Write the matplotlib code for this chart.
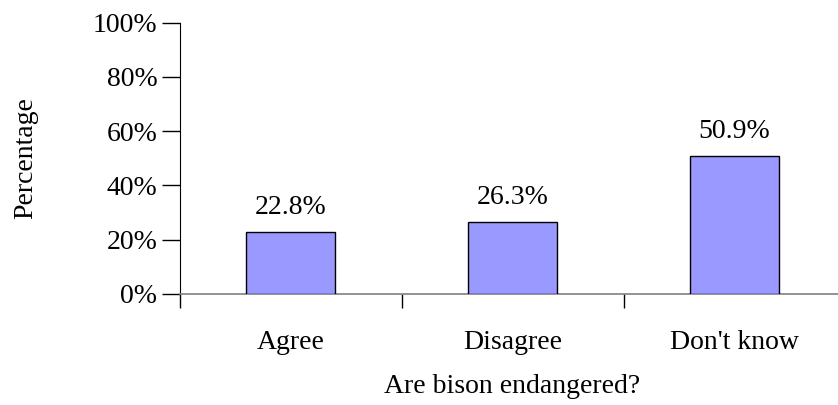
import matplotlib
matplotlib.use("Agg")
import matplotlib.pyplot as plt
from matplotlib.ticker import FuncFormatter

categories = ["Agree", "Disagree", "Don't know"]
values = [22.8, 26.3, 50.9]
yticks = [0, 20, 40, 60, 80, 100]

plt.rcParams['font.family'] = ['Liberation Serif', 'DejaVu Serif']
FS = 20

fig = plt.figure(figsize=(8.38, 4.05), dpi=100)
ax = fig.add_axes([179.5/838, (405-293.7)/405, 666/838, 271/405])

x = list(range(len(categories)))
ax.bar(x, values, width=0.40, color="#9999FF", edgecolor="#000000", linewidth=1.0, zorder=3)
for xi, v in zip(x, values):
    ax.text(xi, v + 4.5, f"{v:.1f}%", ha="center", va="bottom", fontsize=FS)

ax.set_xlim(-0.5, len(categories) - 0.5)
ax.set_ylim(0, 100)
ax.set_yticks(yticks)
ax.yaxis.set_major_formatter(FuncFormatter(lambda v, p: f"{int(v)}%"))
ax.set_xticks([i - 0.5 for i in range(len(categories) + 1)])
ax.set_xticklabels([])
ax.set_xticks(x, minor=True)
ax.set_xticklabels(categories, minor=True, fontsize=FS)
ax.tick_params(axis="x", which="minor", length=0, pad=26)
ax.tick_params(axis="x", which="major", length=10, width=1, color="black", direction="out")
ax.tick_params(axis="y", length=13, width=1, color="black", direction="out", labelsize=FS, pad=3)

for s in ["top", "right"]:
    ax.spines[s].set_visible(False)
ax.spines["left"].set_color("black")
ax.spines["bottom"].set_color("#808080")
ax.spines["bottom"].set_linewidth(1.2)

ax.set_xlabel("Are bison endangered?", fontsize=FS, labelpad=14)
ax.set_ylabel("Percentage", fontsize=FS, labelpad=39)

fig.savefig("out.png", dpi=100)
